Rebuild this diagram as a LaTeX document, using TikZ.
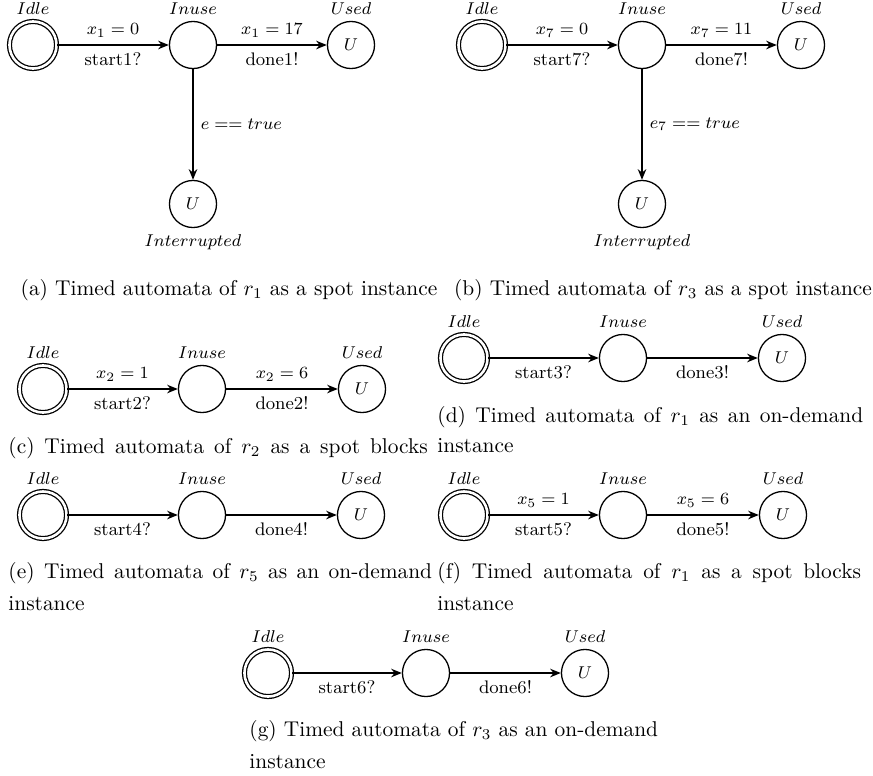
\documentclass[tikz,border=0pt]{standalone}
\usetikzlibrary{arrows.meta}

\newcommand{\gfont}{\fontsize{8.5}{10}\selectfont}
\tikzset{
  loc/.style={circle, draw, line width=0.6pt, minimum size=22pt, inner sep=0pt, font=\gfont},
  initloc/.style={loc, double, double distance=1.2pt},
  trans/.style={line width=0.6pt, -{Stealth[length=5pt, width=4pt]}},
  lbl/.style={font=\gfont},
  every label/.style={font=\gfont, label distance=-0.6pt},
  capbox/.style={anchor=north west, align=left, inner sep=0pt}
}

\begin{document}
\begin{tikzpicture}[x=0.4673pt, y=-0.4673pt]
  \useasboundingbox (0,0) rectangle (873,776);

  % (a) spot instance, r_1
  \node[initloc, label={above:$Idle$}] (a1) at (33, 45) {};
  \node[loc, label={above:$Inuse$}] (a2) at (193, 45) {};
  \node[loc, label={above:$Used$}] (a3) at (351, 45) {$U$};
  \node[loc, label={below:$Interrupted$}] (a4) at (193, 204) {$U$};
  \draw[trans] (a1) -- node[lbl, above] {$x_1 = 0$} node[lbl, below] {start1?} (a2);
  \draw[trans] (a2) -- node[lbl, above] {$x_1 = 17$} node[lbl, below] {done1!} (a3);
  \draw[trans] (a2) -- node[lbl, right] {$e == true$} (a4);
  \node[anchor=north, inner sep=0pt] (capa) at (229, 279)
    {(a) Timed automata of $r_1$ as a spot instance};

  % (b) spot instance, r_3
  \node[initloc, label={above:$Idle$}] (b1) at (482, 45) {};
  \node[loc, label={above:$Inuse$}] (b2) at (642, 45) {};
  \node[loc, label={above:$Used$}] (b3) at (801, 45) {$U$};
  \node[loc, label={below:$Interrupted$}] (b4) at (642, 204) {$U$};
  \draw[trans] (b1) -- node[lbl, above] {$x_7 = 0$} node[lbl, below] {start7?} (b2);
  \draw[trans] (b2) -- node[lbl, above] {$x_7 = 11$} node[lbl, below] {done7!} (b3);
  \draw[trans] (b2) -- node[lbl, right] {$e_7 == true$} (b4);
  \node[anchor=north, inner sep=0pt] (capb) at (663, 279)
    {(b) Timed automata of $r_3$ as a spot instance};

  % (c) spot blocks, r_2
  \node[initloc, label={above:$Idle$}] (c1) at (43, 389) {};
  \node[loc, label={above:$Inuse$}] (c2) at (202, 389) {};
  \node[loc, label={above:$Used$}] (c3) at (362, 389) {$U$};
  \draw[trans] (c1) -- node[lbl, above] {$x_2 = 1$} node[lbl, below] {start2?} (c2);
  \draw[trans] (c2) -- node[lbl, above] {$x_2 = 6$} node[lbl, below] {done2!} (c3);
  \node[capbox] (capc) at (8, 437)
    {\makebox[196pt][s]{(c) Timed automata of $r_2$ as a spot blocks}};

  % (d) on-demand, r_1
  \node[initloc, label={above:$Idle$}] (d1) at (464, 358) {};
  \node[loc, label={above:$Inuse$}] (d2) at (623, 358) {};
  \node[loc, label={above:$Used$}] (d3) at (782, 358) {$U$};
  \draw[trans] (d1) -- node[lbl, below] {start3?} (d2);
  \draw[trans] (d2) -- node[lbl, below] {done3!} (d3);
  \node[capbox] (capd) at (437, 406)
    {\makebox[199pt][s]{(d) Timed automata of $r_1$ as an on-demand}\\[2.2pt]instance};

  % (e) on-demand, r_5
  \node[initloc, label={above:$Idle$}] (e1) at (43, 515) {};
  \node[loc, label={above:$Inuse$}] (e2) at (202, 515) {};
  \node[loc, label={above:$Used$}] (e3) at (361, 515) {$U$};
  \draw[trans] (e1) -- node[lbl, below] {start4?} (e2);
  \draw[trans] (e2) -- node[lbl, below] {done4!} (e3);
  \node[capbox] (cape) at (8, 562)
    {\makebox[198pt][s]{(e) Timed automata of $r_5$ as an on-demand}\\[3pt]instance};

  % (f) spot blocks, r_1
  \node[initloc, label={above:$Idle$}] (f1) at (464, 515) {};
  \node[loc, label={above:$Inuse$}] (f2) at (623, 515) {};
  \node[loc, label={above:$Used$}] (f3) at (783, 515) {$U$};
  \draw[trans] (f1) -- node[lbl, above] {$x_5 = 1$} node[lbl, below] {start5?} (f2);
  \draw[trans] (f2) -- node[lbl, above] {$x_5 = 6$} node[lbl, below] {done5!} (f3);
  \node[capbox] (capf) at (437, 562)
    {\makebox[198pt][s]{(f) Timed automata of $r_1$ as a spot blocks}\\[3pt]instance};

  % (g) on-demand, r_3
  \node[initloc, label={above:$Idle$}] (g1) at (268, 673) {};
  \node[loc, label={above:$Inuse$}] (g2) at (426, 673) {};
  \node[loc, label={above:$Used$}] (g3) at (585, 673) {$U$};
  \draw[trans] (g1) -- node[lbl, below] {start6?} (g2);
  \draw[trans] (g2) -- node[lbl, below] {done6!} (g3);
  \node[capbox] (capg) at (249, 720)
    {(g) Timed automata of $r_3$ as an on-demand\\[3pt]instance};
\end{tikzpicture}
\end{document}
